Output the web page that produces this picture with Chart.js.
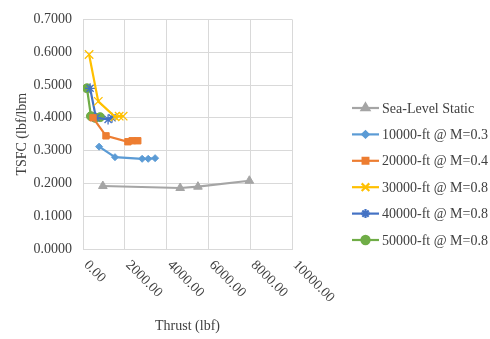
<!DOCTYPE html>
<html>
<head>
<meta charset="utf-8">
<script src="https://cdn.jsdelivr.net/npm/chart.js@4.4.1/dist/chart.umd.min.js"></script>
<style>
  html, body { margin: 0; padding: 0; background: #fff; }
  #wrap { width: 490px; height: 339px; }
</style>
</head>
<body>
<div id="wrap"><canvas id="myChart"></canvas></div>
<script>
'use strict';

// values
var seriesNames = ['Sea-Level Static', '10000-ft @ M=0.3', '20000-ft @ M=0.4', '30000-ft @ M=0.8', '40000-ft @ M=0.8', '50000-ft @ M=0.8'];

var seaLevelThrust = [950, 4650, 5500, 7960];
var seaLevelTsfc = [0.192, 0.186, 0.190, 0.208];

var alt10Thrust = [770, 1530, 2830, 3120, 3450];
var alt10Tsfc = [0.312, 0.280, 0.275, 0.275, 0.277];

var alt20Thrust = [480, 1100, 2150, 2350, 2620];
var alt20Tsfc = [0.400, 0.345, 0.327, 0.330, 0.330];

var alt30Thrust = [290, 730, 1530, 1730, 1920];
var alt30Tsfc = [0.593, 0.450, 0.403, 0.405, 0.405];

var alt40Thrust = [340, 620, 1200, 1390];
var alt40Tsfc = [0.490, 0.400, 0.395, 0.400];

var alt50Thrust = [190, 380, 580, 820];
var alt50Tsfc = [0.490, 0.405, 0.400, 0.402];

var xTicks = [0, 2000, 4000, 6000, 8000, 10000];
var yTicks = [0, 0.1, 0.2, 0.3, 0.4, 0.5, 0.6, 0.7];

var colors = ['#A5A5A5', '#5B9BD5', '#ED7D31', '#FFC000', '#4472C4', '#70AD47'];
var markers = ['triangle', 'rectRot', 'rect', 'crossRot', 'star', 'circle'];
var markerSize = [5, 3.5, 4.5, 6, 5, 4.5];

var serif = '"Liberation Serif", "Times New Roman", serif';

function toPoints(xs, ys) {
  var pts = [];
  for (var i = 0; i < xs.length; i++) {
    pts.push({x: xs[i], y: ys[i]});
  }
  return pts;
}

var allX = [seaLevelThrust, alt10Thrust, alt20Thrust, alt30Thrust, alt40Thrust, alt50Thrust];
var allY = [seaLevelTsfc, alt10Tsfc, alt20Tsfc, alt30Tsfc, alt40Tsfc, alt50Tsfc];

var datasets = [];
for (var s = 0; s < seriesNames.length; s++) {
  datasets.push({
    label: seriesNames[s],
    data: toPoints(allX[s], allY[s]),
    borderColor: colors[s],
    backgroundColor: colors[s],
    borderWidth: 2.2,
    pointStyle: markers[s],
    pointRadius: markerSize[s],
    pointBorderWidth: (markers[s] === 'crossRot' || markers[s] === 'star') ? 1.3 : 1,
    showLine: true,
    tension: 0
  });
}

// x labels turned 45 degrees clockwise, hanging from the tick
var xLabelPlugin = {
  id: 'xLabels',
  afterDraw: function(chart) {
    var ctx = chart.ctx;
    var xs = chart.scales.x;
    ctx.save();
    ctx.font = '14px ' + serif;
    ctx.fillStyle = '#404040';
    ctx.textAlign = 'left';
    ctx.textBaseline = 'middle';
    for (var i = 0; i < xTicks.length; i++) {
      var px = xs.getPixelForValue(xTicks[i]);
      ctx.save();
      ctx.translate(px + 3, chart.chartArea.bottom + 14);
      ctx.rotate(Math.PI / 4);
      ctx.fillText(xTicks[i].toFixed(2), 0, 0);
      ctx.restore();
    }
    ctx.restore();
  }
};

// legend: short line with the marker in the middle
var legendPlugin = {
  id: 'sideLegend',
  afterDraw: function(chart) {
    var ctx = chart.ctx;
    ctx.save();
    for (var i = 0; i < seriesNames.length; i++) {
      var y = 108 + i * 26.4;
      ctx.strokeStyle = colors[i];
      ctx.lineWidth = 2.2;
      ctx.beginPath();
      ctx.moveTo(352, y);
      ctx.lineTo(379, y);
      ctx.stroke();
      Chart.helpers.drawPoint(ctx, {
        pointStyle: markers[i],
        radius: markerSize[i] * 0.9,
        borderWidth: 1.2,
        rotation: 0
      }, 365.5, y);
      ctx.fillStyle = colors[i];
      ctx.fill();
      ctx.fillStyle = '#404040';
      ctx.font = '14px ' + serif;
      ctx.textAlign = 'left';
      ctx.textBaseline = 'middle';
      ctx.fillText(seriesNames[i], 382, y + 1);
    }
    ctx.restore();
  }
};

var myChart = new Chart(document.getElementById('myChart').getContext('2d'), {
  type: 'scatter',
  data: { datasets: datasets },
  options: {
    responsive: true,
    maintainAspectRatio: false,
    animation: false,
    layout: { padding: { left: 0, top: 13, right: 198, bottom: 0 } },
    plugins: {
      legend: { display: false },
      tooltip: { enabled: false }
    },
    scales: {
      x: {
        type: 'linear',
        min: 0,
        max: 10000,
        afterBuildTicks: function(scale) {
          scale.ticks = xTicks.map(function(v) { return {value: v}; });
        },
        afterFit: function(scale) { scale.height = 90; },
        ticks: { display: false },
        grid: { color: '#d9d9d9', drawTicks: false },
        border: { color: '#d9d9d9' },
        title: {
          display: true,
          text: 'Thrust (lbf)',
          color: '#404040',
          font: { family: serif, size: 14 },
          padding: { top: 0, bottom: 4 }
        }
      },
      y: {
        min: 0,
        max: 0.7,
        afterBuildTicks: function(scale) {
          scale.ticks = yTicks.map(function(v) { return {value: v}; });
        },
        afterFit: function(scale) { scale.width = 83; },
        ticks: {
          padding: 11,
          color: '#404040',
          font: { family: serif, size: 14 },
          callback: function(v) { return Number(v).toFixed(4); }
        },
        grid: { color: '#d9d9d9', drawTicks: false },
        border: { color: '#d9d9d9' },
        title: {
          display: true,
          text: 'TSFC (lbf/lbm',
          color: '#404040',
          font: { family: serif, size: 14 },
          padding: { top: 14, bottom: 0 }
        }
      }
    }
  },
  plugins: [xLabelPlugin, legendPlugin]
});
</script>
</body>
</html>
